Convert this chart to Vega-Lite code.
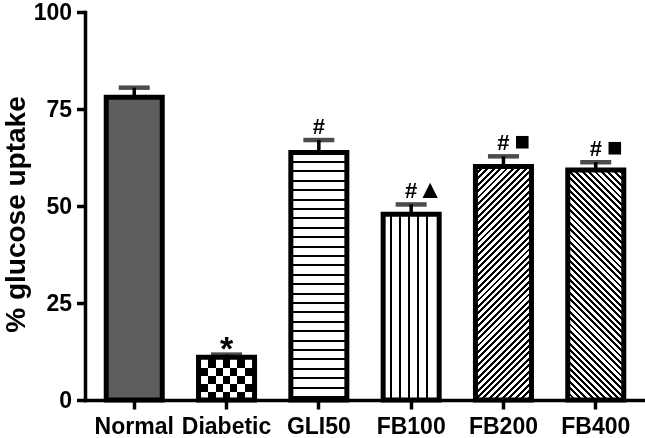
{
  "$schema": "https://vega.github.io/schema/vega-lite/v6.json",
  "width": 560,
  "height": 388,
  "autosize": {"type": "none"},
  "padding": {"left": 85, "top": 12, "right": 0, "bottom": 38},
  "background": "white",
  "data": {
    "values": [
      {"group": "Normal", "mean": 78.0, "upper": 80.5, "sig1": "", "sig2": ""},
      {"group": "Diabetic", "mean": 11.0, "upper": 11.7, "sig1": "*", "sig2": ""},
      {"group": "GLI50", "mean": 63.8, "upper": 67.0, "sig1": "#", "sig2": ""},
      {"group": "FB100", "mean": 47.9, "upper": 50.4, "sig1": "#", "sig2": "▲"},
      {"group": "FB200", "mean": 60.2, "upper": 62.8, "sig1": "#", "sig2": "■"},
      {"group": "FB400", "mean": 59.3, "upper": 61.3, "sig1": "#", "sig2": "■"}
    ]
  },
  "encoding": {
    "x": {
      "field": "group",
      "type": "nominal",
      "sort": null,
      "scale": {"domain": ["Normal", "Diabetic", "GLI50", "FB100", "FB200", "FB400"], "paddingInner": 0.393, "paddingOuter": 0.23},
      "axis": {"title": null, "labelAngle": 0}
    }
  },
  "layer": [
    {
      "transform": [{"filter": "datum.group === 'Normal'"}],
      "mark": {"type": "bar", "fill": "#5e5e5e", "strokeWidth": 0},
      "encoding": {
        "y": {"field": "mean", "type": "quantitative", "scale": {"domain": [0, 100]}, "title": "% glucose uptake",
          "axis": {"title": "% glucose uptake", "values": [0, 25, 50, 75, 100], "titleAngle": 270, "titleX": -69, "titleY": 202, "titleAlign": "center", "titleBaseline": "middle"}}
      }
    },
    {
      "transform": [{"filter": "datum.group === 'Diabetic'"}],
      "mark": {"type": "bar", "strokeWidth": 0, "fill": {"gradient": "linear", "x1": 0, "y1": 0, "x2": 0, "y2": 1, "stops": [
        {"offset": 0, "color": "#fff"}, {"offset": 0.2459, "color": "#fff"}, {"offset": 0.2459, "color": "#000"}, {"offset": 0.4333, "color": "#000"}, {"offset": 0.4333, "color": "#fff"}, {"offset": 0.6206, "color": "#fff"}, {"offset": 0.6206, "color": "#000"}, {"offset": 0.8080, "color": "#000"}, {"offset": 0.8080, "color": "#fff"}, {"offset": 1, "color": "#fff"}]}},
      "encoding": {"y": {"field": "mean", "type": "quantitative", "title": "% glucose uptake",
          "axis": {"title": "% glucose uptake", "values": [0, 25, 50, 75, 100], "titleAngle": 270, "titleX": -69, "titleY": 202, "titleAlign": "center", "titleBaseline": "middle"}}}
    },
    {
      "transform": [{"filter": "datum.group === 'Diabetic'"}],
      "mark": {"type": "bar", "strokeWidth": 0, "blend": "difference", "fill": {"gradient": "linear", "x1": 0, "y1": 0, "x2": 1, "y2": 0, "stops": [
        {"offset": 0, "color": "#000"}, {"offset": 0.1748, "color": "#000"}, {"offset": 0.1748, "color": "#fff"}, {"offset": 0.3048, "color": "#fff"}, {"offset": 0.3048, "color": "#000"}, {"offset": 0.4350, "color": "#000"}, {"offset": 0.4350, "color": "#fff"}, {"offset": 0.5650, "color": "#fff"}, {"offset": 0.5650, "color": "#000"}, {"offset": 0.6952, "color": "#000"}, {"offset": 0.6952, "color": "#fff"}, {"offset": 0.8252, "color": "#fff"}, {"offset": 0.8252, "color": "#000"}, {"offset": 1, "color": "#000"}]}},
      "encoding": {"y": {"field": "mean", "type": "quantitative", "title": "% glucose uptake",
          "axis": {"title": "% glucose uptake", "values": [0, 25, 50, 75, 100], "titleAngle": 270, "titleX": -69, "titleY": 202, "titleAlign": "center", "titleBaseline": "middle"}}}
    },
    {
      "transform": [{"filter": "datum.group === 'GLI50'"}],
      "mark": {"type": "bar", "strokeWidth": 0, "fill": {"gradient": "linear", "x1": 0, "y1": 0, "x2": 0, "y2": 1, "stops": [
        {"offset": 0, "color": "#fff"},
        {"offset": 0.0343, "color": "#fff"}, {"offset": 0.0343, "color": "#000"}, {"offset": 0.0423, "color": "#000"}, {"offset": 0.0423, "color": "#fff"},
        {"offset": 0.0723, "color": "#fff"}, {"offset": 0.0723, "color": "#000"}, {"offset": 0.0803, "color": "#000"}, {"offset": 0.0803, "color": "#fff"},
        {"offset": 0.1103, "color": "#fff"}, {"offset": 0.1103, "color": "#000"}, {"offset": 0.1183, "color": "#000"}, {"offset": 0.1183, "color": "#fff"},
        {"offset": 0.1483, "color": "#fff"}, {"offset": 0.1483, "color": "#000"}, {"offset": 0.1563, "color": "#000"}, {"offset": 0.1563, "color": "#fff"},
        {"offset": 0.1863, "color": "#fff"}, {"offset": 0.1863, "color": "#000"}, {"offset": 0.1943, "color": "#000"}, {"offset": 0.1943, "color": "#fff"},
        {"offset": 0.2242, "color": "#fff"}, {"offset": 0.2242, "color": "#000"}, {"offset": 0.2322, "color": "#000"}, {"offset": 0.2322, "color": "#fff"},
        {"offset": 0.2622, "color": "#fff"}, {"offset": 0.2622, "color": "#000"}, {"offset": 0.2702, "color": "#000"}, {"offset": 0.2702, "color": "#fff"},
        {"offset": 0.3002, "color": "#fff"}, {"offset": 0.3002, "color": "#000"}, {"offset": 0.3082, "color": "#000"}, {"offset": 0.3082, "color": "#fff"},
        {"offset": 0.3382, "color": "#fff"}, {"offset": 0.3382, "color": "#000"}, {"offset": 0.3462, "color": "#000"}, {"offset": 0.3462, "color": "#fff"},
        {"offset": 0.3762, "color": "#fff"}, {"offset": 0.3762, "color": "#000"}, {"offset": 0.3842, "color": "#000"}, {"offset": 0.3842, "color": "#fff"},
        {"offset": 0.4141, "color": "#fff"}, {"offset": 0.4141, "color": "#000"}, {"offset": 0.4221, "color": "#000"}, {"offset": 0.4221, "color": "#fff"},
        {"offset": 0.4521, "color": "#fff"}, {"offset": 0.4521, "color": "#000"}, {"offset": 0.4601, "color": "#000"}, {"offset": 0.4601, "color": "#fff"},
        {"offset": 0.4901, "color": "#fff"}, {"offset": 0.4901, "color": "#000"}, {"offset": 0.4981, "color": "#000"}, {"offset": 0.4981, "color": "#fff"},
        {"offset": 0.5281, "color": "#fff"}, {"offset": 0.5281, "color": "#000"}, {"offset": 0.5361, "color": "#000"}, {"offset": 0.5361, "color": "#fff"},
        {"offset": 0.5661, "color": "#fff"}, {"offset": 0.5661, "color": "#000"}, {"offset": 0.5741, "color": "#000"}, {"offset": 0.5741, "color": "#fff"},
        {"offset": 0.6040, "color": "#fff"}, {"offset": 0.6040, "color": "#000"}, {"offset": 0.6120, "color": "#000"}, {"offset": 0.6120, "color": "#fff"},
        {"offset": 0.6420, "color": "#fff"}, {"offset": 0.6420, "color": "#000"}, {"offset": 0.6500, "color": "#000"}, {"offset": 0.6500, "color": "#fff"},
        {"offset": 0.6800, "color": "#fff"}, {"offset": 0.6800, "color": "#000"}, {"offset": 0.6880, "color": "#000"}, {"offset": 0.6880, "color": "#fff"},
        {"offset": 0.7180, "color": "#fff"}, {"offset": 0.7180, "color": "#000"}, {"offset": 0.7260, "color": "#000"}, {"offset": 0.7260, "color": "#fff"},
        {"offset": 0.7560, "color": "#fff"}, {"offset": 0.7560, "color": "#000"}, {"offset": 0.7640, "color": "#000"}, {"offset": 0.7640, "color": "#fff"},
        {"offset": 0.7939, "color": "#fff"}, {"offset": 0.7939, "color": "#000"}, {"offset": 0.8019, "color": "#000"}, {"offset": 0.8019, "color": "#fff"},
        {"offset": 0.8319, "color": "#fff"}, {"offset": 0.8319, "color": "#000"}, {"offset": 0.8399, "color": "#000"}, {"offset": 0.8399, "color": "#fff"},
        {"offset": 0.8699, "color": "#fff"}, {"offset": 0.8699, "color": "#000"}, {"offset": 0.8779, "color": "#000"}, {"offset": 0.8779, "color": "#fff"},
        {"offset": 0.9079, "color": "#fff"}, {"offset": 0.9079, "color": "#000"}, {"offset": 0.9159, "color": "#000"}, {"offset": 0.9159, "color": "#fff"},
        {"offset": 0.9459, "color": "#fff"}, {"offset": 0.9459, "color": "#000"}, {"offset": 0.9539, "color": "#000"}, {"offset": 0.9539, "color": "#fff"},
        {"offset": 0.9838, "color": "#fff"}, {"offset": 0.9838, "color": "#000"}, {"offset": 0.9918, "color": "#000"}, {"offset": 0.9918, "color": "#fff"},
        {"offset": 1, "color": "#fff"}]}},
      "encoding": {"y": {"field": "mean", "type": "quantitative", "title": "% glucose uptake",
          "axis": {"title": "% glucose uptake", "values": [0, 25, 50, 75, 100], "titleAngle": 270, "titleX": -69, "titleY": 202, "titleAlign": "center", "titleBaseline": "middle"}}}
    },
    {
      "transform": [{"filter": "datum.group === 'FB100'"}],
      "mark": {"type": "bar", "strokeWidth": 0, "fill": {"gradient": "linear", "x1": 0, "y1": 0, "x2": 1, "y2": 0, "stops": [
        {"offset": 0, "color": "#fff"},
        {"offset": 0.116, "color": "#fff"}, {"offset": 0.116, "color": "#000"}, {"offset": 0.152, "color": "#000"}, {"offset": 0.152, "color": "#fff"},
        {"offset": 0.277, "color": "#fff"}, {"offset": 0.277, "color": "#000"}, {"offset": 0.313, "color": "#000"}, {"offset": 0.313, "color": "#fff"},
        {"offset": 0.444, "color": "#fff"}, {"offset": 0.444, "color": "#000"}, {"offset": 0.480, "color": "#000"}, {"offset": 0.480, "color": "#fff"},
        {"offset": 0.605, "color": "#fff"}, {"offset": 0.605, "color": "#000"}, {"offset": 0.641, "color": "#000"}, {"offset": 0.641, "color": "#fff"},
        {"offset": 0.771, "color": "#fff"}, {"offset": 0.771, "color": "#000"}, {"offset": 0.807, "color": "#000"}, {"offset": 0.807, "color": "#fff"},
        {"offset": 1, "color": "#fff"}]}},
      "encoding": {"y": {"field": "mean", "type": "quantitative", "title": "% glucose uptake",
          "axis": {"title": "% glucose uptake", "values": [0, 25, 50, 75, 100], "titleAngle": 270, "titleX": -69, "titleY": 202, "titleAlign": "center", "titleBaseline": "middle"}}}
    },
    {
      "transform": [{"filter": "datum.group === 'FB200'"}],
      "mark": {"type": "bar", "strokeWidth": 0, "fill": {"gradient": "linear", "x1": 0, "y1": 0, "x2": 0.2811, "y2": 1.1724, "stops": [
        {"offset": 0, "color": "#000"}, {"offset": 0.01, "color": "#000"}, {"offset": 0.01, "color": "#fff"},
        {"offset": 0.0222, "color": "#fff"}, {"offset": 0.0222, "color": "#000"}, {"offset": 0.0322, "color": "#000"}, {"offset": 0.0322, "color": "#fff"},
        {"offset": 0.0444, "color": "#fff"}, {"offset": 0.0444, "color": "#000"}, {"offset": 0.0544, "color": "#000"}, {"offset": 0.0544, "color": "#fff"},
        {"offset": 0.0667, "color": "#fff"}, {"offset": 0.0667, "color": "#000"}, {"offset": 0.0767, "color": "#000"}, {"offset": 0.0767, "color": "#fff"},
        {"offset": 0.0889, "color": "#fff"}, {"offset": 0.0889, "color": "#000"}, {"offset": 0.0989, "color": "#000"}, {"offset": 0.0989, "color": "#fff"},
        {"offset": 0.1111, "color": "#fff"}, {"offset": 0.1111, "color": "#000"}, {"offset": 0.1211, "color": "#000"}, {"offset": 0.1211, "color": "#fff"},
        {"offset": 0.1333, "color": "#fff"}, {"offset": 0.1333, "color": "#000"}, {"offset": 0.1433, "color": "#000"}, {"offset": 0.1433, "color": "#fff"},
        {"offset": 0.1556, "color": "#fff"}, {"offset": 0.1556, "color": "#000"}, {"offset": 0.1656, "color": "#000"}, {"offset": 0.1656, "color": "#fff"},
        {"offset": 0.1778, "color": "#fff"}, {"offset": 0.1778, "color": "#000"}, {"offset": 0.1878, "color": "#000"}, {"offset": 0.1878, "color": "#fff"},
        {"offset": 0.2, "color": "#fff"}, {"offset": 0.2, "color": "#000"}, {"offset": 0.21, "color": "#000"}, {"offset": 0.21, "color": "#fff"},
        {"offset": 0.2222, "color": "#fff"}, {"offset": 0.2222, "color": "#000"}, {"offset": 0.2322, "color": "#000"}, {"offset": 0.2322, "color": "#fff"},
        {"offset": 0.2444, "color": "#fff"}, {"offset": 0.2444, "color": "#000"}, {"offset": 0.2544, "color": "#000"}, {"offset": 0.2544, "color": "#fff"},
        {"offset": 0.2667, "color": "#fff"}, {"offset": 0.2667, "color": "#000"}, {"offset": 0.2767, "color": "#000"}, {"offset": 0.2767, "color": "#fff"},
        {"offset": 0.2889, "color": "#fff"}, {"offset": 0.2889, "color": "#000"}, {"offset": 0.2989, "color": "#000"}, {"offset": 0.2989, "color": "#fff"},
        {"offset": 0.3111, "color": "#fff"}, {"offset": 0.3111, "color": "#000"}, {"offset": 0.3211, "color": "#000"}, {"offset": 0.3211, "color": "#fff"},
        {"offset": 0.3333, "color": "#fff"}, {"offset": 0.3333, "color": "#000"}, {"offset": 0.3433, "color": "#000"}, {"offset": 0.3433, "color": "#fff"},
        {"offset": 0.3556, "color": "#fff"}, {"offset": 0.3556, "color": "#000"}, {"offset": 0.3656, "color": "#000"}, {"offset": 0.3656, "color": "#fff"},
        {"offset": 0.3778, "color": "#fff"}, {"offset": 0.3778, "color": "#000"}, {"offset": 0.3878, "color": "#000"}, {"offset": 0.3878, "color": "#fff"},
        {"offset": 0.4, "color": "#fff"}, {"offset": 0.4, "color": "#000"}, {"offset": 0.41, "color": "#000"}, {"offset": 0.41, "color": "#fff"},
        {"offset": 0.4222, "color": "#fff"}, {"offset": 0.4222, "color": "#000"}, {"offset": 0.4322, "color": "#000"}, {"offset": 0.4322, "color": "#fff"},
        {"offset": 0.4444, "color": "#fff"}, {"offset": 0.4444, "color": "#000"}, {"offset": 0.4544, "color": "#000"}, {"offset": 0.4544, "color": "#fff"},
        {"offset": 0.4667, "color": "#fff"}, {"offset": 0.4667, "color": "#000"}, {"offset": 0.4767, "color": "#000"}, {"offset": 0.4767, "color": "#fff"},
        {"offset": 0.4889, "color": "#fff"}, {"offset": 0.4889, "color": "#000"}, {"offset": 0.4989, "color": "#000"}, {"offset": 0.4989, "color": "#fff"},
        {"offset": 0.5111, "color": "#fff"}, {"offset": 0.5111, "color": "#000"}, {"offset": 0.5211, "color": "#000"}, {"offset": 0.5211, "color": "#fff"},
        {"offset": 0.5333, "color": "#fff"}, {"offset": 0.5333, "color": "#000"}, {"offset": 0.5433, "color": "#000"}, {"offset": 0.5433, "color": "#fff"},
        {"offset": 0.5556, "color": "#fff"}, {"offset": 0.5556, "color": "#000"}, {"offset": 0.5656, "color": "#000"}, {"offset": 0.5656, "color": "#fff"},
        {"offset": 0.5778, "color": "#fff"}, {"offset": 0.5778, "color": "#000"}, {"offset": 0.5878, "color": "#000"}, {"offset": 0.5878, "color": "#fff"},
        {"offset": 0.6, "color": "#fff"}, {"offset": 0.6, "color": "#000"}, {"offset": 0.61, "color": "#000"}, {"offset": 0.61, "color": "#fff"},
        {"offset": 0.6222, "color": "#fff"}, {"offset": 0.6222, "color": "#000"}, {"offset": 0.6322, "color": "#000"}, {"offset": 0.6322, "color": "#fff"},
        {"offset": 0.6444, "color": "#fff"}, {"offset": 0.6444, "color": "#000"}, {"offset": 0.6544, "color": "#000"}, {"offset": 0.6544, "color": "#fff"},
        {"offset": 0.6667, "color": "#fff"}, {"offset": 0.6667, "color": "#000"}, {"offset": 0.6767, "color": "#000"}, {"offset": 0.6767, "color": "#fff"},
        {"offset": 0.6889, "color": "#fff"}, {"offset": 0.6889, "color": "#000"}, {"offset": 0.6989, "color": "#000"}, {"offset": 0.6989, "color": "#fff"},
        {"offset": 0.7111, "color": "#fff"}, {"offset": 0.7111, "color": "#000"}, {"offset": 0.7211, "color": "#000"}, {"offset": 0.7211, "color": "#fff"},
        {"offset": 0.7333, "color": "#fff"}, {"offset": 0.7333, "color": "#000"}, {"offset": 0.7433, "color": "#000"}, {"offset": 0.7433, "color": "#fff"},
        {"offset": 0.7556, "color": "#fff"}, {"offset": 0.7556, "color": "#000"}, {"offset": 0.7656, "color": "#000"}, {"offset": 0.7656, "color": "#fff"},
        {"offset": 0.7778, "color": "#fff"}, {"offset": 0.7778, "color": "#000"}, {"offset": 0.7878, "color": "#000"}, {"offset": 0.7878, "color": "#fff"},
        {"offset": 0.8, "color": "#fff"}, {"offset": 0.8, "color": "#000"}, {"offset": 0.81, "color": "#000"}, {"offset": 0.81, "color": "#fff"},
        {"offset": 0.8222, "color": "#fff"}, {"offset": 0.8222, "color": "#000"}, {"offset": 0.8322, "color": "#000"}, {"offset": 0.8322, "color": "#fff"},
        {"offset": 0.8444, "color": "#fff"}, {"offset": 0.8444, "color": "#000"}, {"offset": 0.8544, "color": "#000"}, {"offset": 0.8544, "color": "#fff"},
        {"offset": 0.8667, "color": "#fff"}, {"offset": 0.8667, "color": "#000"}, {"offset": 0.8767, "color": "#000"}, {"offset": 0.8767, "color": "#fff"},
        {"offset": 0.8889, "color": "#fff"}, {"offset": 0.8889, "color": "#000"}, {"offset": 0.8989, "color": "#000"}, {"offset": 0.8989, "color": "#fff"},
        {"offset": 0.9111, "color": "#fff"}, {"offset": 0.9111, "color": "#000"}, {"offset": 0.9211, "color": "#000"}, {"offset": 0.9211, "color": "#fff"},
        {"offset": 0.9333, "color": "#fff"}, {"offset": 0.9333, "color": "#000"}, {"offset": 0.9433, "color": "#000"}, {"offset": 0.9433, "color": "#fff"},
        {"offset": 0.9556, "color": "#fff"}, {"offset": 0.9556, "color": "#000"}, {"offset": 0.9656, "color": "#000"}, {"offset": 0.9656, "color": "#fff"},
        {"offset": 0.9778, "color": "#fff"}, {"offset": 0.9778, "color": "#000"}, {"offset": 0.9878, "color": "#000"}, {"offset": 0.9878, "color": "#fff"},
        {"offset": 1, "color": "#fff"}]}},
      "encoding": {"y": {"field": "mean", "type": "quantitative", "title": "% glucose uptake",
          "axis": {"title": "% glucose uptake", "values": [0, 25, 50, 75, 100], "titleAngle": 270, "titleX": -69, "titleY": 202, "titleAlign": "center", "titleBaseline": "middle"}}}
    },
    {
      "transform": [{"filter": "datum.group === 'FB400'"}],
      "mark": {"type": "bar", "strokeWidth": 0, "fill": {"gradient": "linear", "x1": 0, "y1": 1, "x2": 0.2857, "y2": -0.1739, "stops": [
        {"offset": 0, "color": "#000"}, {"offset": 0.01, "color": "#000"}, {"offset": 0.01, "color": "#fff"},
        {"offset": 0.0222, "color": "#fff"}, {"offset": 0.0222, "color": "#000"}, {"offset": 0.0322, "color": "#000"}, {"offset": 0.0322, "color": "#fff"},
        {"offset": 0.0444, "color": "#fff"}, {"offset": 0.0444, "color": "#000"}, {"offset": 0.0544, "color": "#000"}, {"offset": 0.0544, "color": "#fff"},
        {"offset": 0.0667, "color": "#fff"}, {"offset": 0.0667, "color": "#000"}, {"offset": 0.0767, "color": "#000"}, {"offset": 0.0767, "color": "#fff"},
        {"offset": 0.0889, "color": "#fff"}, {"offset": 0.0889, "color": "#000"}, {"offset": 0.0989, "color": "#000"}, {"offset": 0.0989, "color": "#fff"},
        {"offset": 0.1111, "color": "#fff"}, {"offset": 0.1111, "color": "#000"}, {"offset": 0.1211, "color": "#000"}, {"offset": 0.1211, "color": "#fff"},
        {"offset": 0.1333, "color": "#fff"}, {"offset": 0.1333, "color": "#000"}, {"offset": 0.1433, "color": "#000"}, {"offset": 0.1433, "color": "#fff"},
        {"offset": 0.1556, "color": "#fff"}, {"offset": 0.1556, "color": "#000"}, {"offset": 0.1656, "color": "#000"}, {"offset": 0.1656, "color": "#fff"},
        {"offset": 0.1778, "color": "#fff"}, {"offset": 0.1778, "color": "#000"}, {"offset": 0.1878, "color": "#000"}, {"offset": 0.1878, "color": "#fff"},
        {"offset": 0.2, "color": "#fff"}, {"offset": 0.2, "color": "#000"}, {"offset": 0.21, "color": "#000"}, {"offset": 0.21, "color": "#fff"},
        {"offset": 0.2222, "color": "#fff"}, {"offset": 0.2222, "color": "#000"}, {"offset": 0.2322, "color": "#000"}, {"offset": 0.2322, "color": "#fff"},
        {"offset": 0.2444, "color": "#fff"}, {"offset": 0.2444, "color": "#000"}, {"offset": 0.2544, "color": "#000"}, {"offset": 0.2544, "color": "#fff"},
        {"offset": 0.2667, "color": "#fff"}, {"offset": 0.2667, "color": "#000"}, {"offset": 0.2767, "color": "#000"}, {"offset": 0.2767, "color": "#fff"},
        {"offset": 0.2889, "color": "#fff"}, {"offset": 0.2889, "color": "#000"}, {"offset": 0.2989, "color": "#000"}, {"offset": 0.2989, "color": "#fff"},
        {"offset": 0.3111, "color": "#fff"}, {"offset": 0.3111, "color": "#000"}, {"offset": 0.3211, "color": "#000"}, {"offset": 0.3211, "color": "#fff"},
        {"offset": 0.3333, "color": "#fff"}, {"offset": 0.3333, "color": "#000"}, {"offset": 0.3433, "color": "#000"}, {"offset": 0.3433, "color": "#fff"},
        {"offset": 0.3556, "color": "#fff"}, {"offset": 0.3556, "color": "#000"}, {"offset": 0.3656, "color": "#000"}, {"offset": 0.3656, "color": "#fff"},
        {"offset": 0.3778, "color": "#fff"}, {"offset": 0.3778, "color": "#000"}, {"offset": 0.3878, "color": "#000"}, {"offset": 0.3878, "color": "#fff"},
        {"offset": 0.4, "color": "#fff"}, {"offset": 0.4, "color": "#000"}, {"offset": 0.41, "color": "#000"}, {"offset": 0.41, "color": "#fff"},
        {"offset": 0.4222, "color": "#fff"}, {"offset": 0.4222, "color": "#000"}, {"offset": 0.4322, "color": "#000"}, {"offset": 0.4322, "color": "#fff"},
        {"offset": 0.4444, "color": "#fff"}, {"offset": 0.4444, "color": "#000"}, {"offset": 0.4544, "color": "#000"}, {"offset": 0.4544, "color": "#fff"},
        {"offset": 0.4667, "color": "#fff"}, {"offset": 0.4667, "color": "#000"}, {"offset": 0.4767, "color": "#000"}, {"offset": 0.4767, "color": "#fff"},
        {"offset": 0.4889, "color": "#fff"}, {"offset": 0.4889, "color": "#000"}, {"offset": 0.4989, "color": "#000"}, {"offset": 0.4989, "color": "#fff"},
        {"offset": 0.5111, "color": "#fff"}, {"offset": 0.5111, "color": "#000"}, {"offset": 0.5211, "color": "#000"}, {"offset": 0.5211, "color": "#fff"},
        {"offset": 0.5333, "color": "#fff"}, {"offset": 0.5333, "color": "#000"}, {"offset": 0.5433, "color": "#000"}, {"offset": 0.5433, "color": "#fff"},
        {"offset": 0.5556, "color": "#fff"}, {"offset": 0.5556, "color": "#000"}, {"offset": 0.5656, "color": "#000"}, {"offset": 0.5656, "color": "#fff"},
        {"offset": 0.5778, "color": "#fff"}, {"offset": 0.5778, "color": "#000"}, {"offset": 0.5878, "color": "#000"}, {"offset": 0.5878, "color": "#fff"},
        {"offset": 0.6, "color": "#fff"}, {"offset": 0.6, "color": "#000"}, {"offset": 0.61, "color": "#000"}, {"offset": 0.61, "color": "#fff"},
        {"offset": 0.6222, "color": "#fff"}, {"offset": 0.6222, "color": "#000"}, {"offset": 0.6322, "color": "#000"}, {"offset": 0.6322, "color": "#fff"},
        {"offset": 0.6444, "color": "#fff"}, {"offset": 0.6444, "color": "#000"}, {"offset": 0.6544, "color": "#000"}, {"offset": 0.6544, "color": "#fff"},
        {"offset": 0.6667, "color": "#fff"}, {"offset": 0.6667, "color": "#000"}, {"offset": 0.6767, "color": "#000"}, {"offset": 0.6767, "color": "#fff"},
        {"offset": 0.6889, "color": "#fff"}, {"offset": 0.6889, "color": "#000"}, {"offset": 0.6989, "color": "#000"}, {"offset": 0.6989, "color": "#fff"},
        {"offset": 0.7111, "color": "#fff"}, {"offset": 0.7111, "color": "#000"}, {"offset": 0.7211, "color": "#000"}, {"offset": 0.7211, "color": "#fff"},
        {"offset": 0.7333, "color": "#fff"}, {"offset": 0.7333, "color": "#000"}, {"offset": 0.7433, "color": "#000"}, {"offset": 0.7433, "color": "#fff"},
        {"offset": 0.7556, "color": "#fff"}, {"offset": 0.7556, "color": "#000"}, {"offset": 0.7656, "color": "#000"}, {"offset": 0.7656, "color": "#fff"},
        {"offset": 0.7778, "color": "#fff"}, {"offset": 0.7778, "color": "#000"}, {"offset": 0.7878, "color": "#000"}, {"offset": 0.7878, "color": "#fff"},
        {"offset": 0.8, "color": "#fff"}, {"offset": 0.8, "color": "#000"}, {"offset": 0.81, "color": "#000"}, {"offset": 0.81, "color": "#fff"},
        {"offset": 0.8222, "color": "#fff"}, {"offset": 0.8222, "color": "#000"}, {"offset": 0.8322, "color": "#000"}, {"offset": 0.8322, "color": "#fff"},
        {"offset": 0.8444, "color": "#fff"}, {"offset": 0.8444, "color": "#000"}, {"offset": 0.8544, "color": "#000"}, {"offset": 0.8544, "color": "#fff"},
        {"offset": 0.8667, "color": "#fff"}, {"offset": 0.8667, "color": "#000"}, {"offset": 0.8767, "color": "#000"}, {"offset": 0.8767, "color": "#fff"},
        {"offset": 0.8889, "color": "#fff"}, {"offset": 0.8889, "color": "#000"}, {"offset": 0.8989, "color": "#000"}, {"offset": 0.8989, "color": "#fff"},
        {"offset": 0.9111, "color": "#fff"}, {"offset": 0.9111, "color": "#000"}, {"offset": 0.9211, "color": "#000"}, {"offset": 0.9211, "color": "#fff"},
        {"offset": 0.9333, "color": "#fff"}, {"offset": 0.9333, "color": "#000"}, {"offset": 0.9433, "color": "#000"}, {"offset": 0.9433, "color": "#fff"},
        {"offset": 0.9556, "color": "#fff"}, {"offset": 0.9556, "color": "#000"}, {"offset": 0.9656, "color": "#000"}, {"offset": 0.9656, "color": "#fff"},
        {"offset": 0.9778, "color": "#fff"}, {"offset": 0.9778, "color": "#000"}, {"offset": 0.9878, "color": "#000"}, {"offset": 0.9878, "color": "#fff"},
        {"offset": 1, "color": "#fff"}]}},
      "encoding": {"y": {"field": "mean", "type": "quantitative", "title": "% glucose uptake",
          "axis": {"title": "% glucose uptake", "values": [0, 25, 50, 75, 100], "titleAngle": 270, "titleX": -69, "titleY": 202, "titleAlign": "center", "titleBaseline": "middle"}}}
    },
    {
      "mark": {"type": "bar", "fill": "#fff", "fillOpacity": 0, "stroke": "#000", "strokeWidth": 5},
      "encoding": {"y": {"field": "mean", "type": "quantitative", "title": "% glucose uptake",
          "axis": {"title": "% glucose uptake", "values": [0, 25, 50, 75, 100], "titleAngle": 270, "titleX": -69, "titleY": 202, "titleAlign": "center", "titleBaseline": "middle"}}}
    },
    {
      "mark": {"type": "rule", "color": "#000", "strokeWidth": 3.5},
      "encoding": {"y": {"field": "mean", "type": "quantitative", "title": "% glucose uptake",
          "axis": {"title": "% glucose uptake", "values": [0, 25, 50, 75, 100], "titleAngle": 270, "titleX": -69, "titleY": 202, "titleAlign": "center", "titleBaseline": "middle"}}, "y2": {"field": "upper"}}
    },
    {
      "mark": {"type": "tick", "color": "#000", "size": 31, "thickness": 4.5},
      "encoding": {"y": {"field": "upper", "type": "quantitative", "title": "% glucose uptake",
          "axis": {"title": "% glucose uptake", "values": [0, 25, 50, 75, 100], "titleAngle": 270, "titleX": -69, "titleY": 202, "titleAlign": "center", "titleBaseline": "middle"}}}
    },
    {
      "transform": [{"filter": "datum.sig1 === '*'"}],
      "mark": {"type": "text", "font": "Liberation Sans", "fontSize": 34, "fontWeight": "bold", "color": "#000", "align": "center", "baseline": "alphabetic", "dy": 5},
      "encoding": {"y": {"field": "upper", "type": "quantitative", "title": "% glucose uptake",
          "axis": {"title": "% glucose uptake", "values": [0, 25, 50, 75, 100], "titleAngle": 270, "titleX": -69, "titleY": 202, "titleAlign": "center", "titleBaseline": "middle"}}, "text": {"field": "sig1"}}
    },
    {
      "transform": [{"filter": "datum.sig1 === '#'"}],
      "mark": {"type": "text", "font": "Liberation Sans", "fontSize": 22, "fontWeight": "bold", "color": "#000", "align": "center", "baseline": "alphabetic", "dy": -6.5},
      "encoding": {"y": {"field": "upper", "type": "quantitative", "title": "% glucose uptake",
          "axis": {"title": "% glucose uptake", "values": [0, 25, 50, 75, 100], "titleAngle": 270, "titleX": -69, "titleY": 202, "titleAlign": "center", "titleBaseline": "middle"}}, "text": {"field": "sig1"}}
    },
    {
      "transform": [{"filter": "datum.sig2 !== ''"}],
      "mark": {"type": "text", "font": "Liberation Sans", "fontSize": 26, "color": "#000", "align": "center", "baseline": "alphabetic", "dx": 19, "dy": -6.5},
      "encoding": {"y": {"field": "upper", "type": "quantitative", "title": "% glucose uptake",
          "axis": {"title": "% glucose uptake", "values": [0, 25, 50, 75, 100], "titleAngle": 270, "titleX": -69, "titleY": 202, "titleAlign": "center", "titleBaseline": "middle"}}, "text": {"field": "sig2"}}
    }
  ],
  "config": {
    "view": {"stroke": null},
    "font": "Liberation Sans",
    "axis": {
      "grid": false,
      "domainColor": "#000",
      "domainWidth": 3.5,
      "domainCap": "square",
      "tickColor": "#000",
      "tickWidth": 3.5,
      "labelColor": "#000",
      "labelFont": "Liberation Sans",
      "labelFontWeight": "bold",
      "labelFontSize": 23,
      "titleFont": "Liberation Sans",
      "titleFontWeight": "bold",
      "titleColor": "#000"
    },
    "axisX": {"tickSize": 9, "labelPadding": 6},
    "axisY": {"tickSize": 8.5, "labelPadding": 5, "titleFontSize": 28}
  }
}
